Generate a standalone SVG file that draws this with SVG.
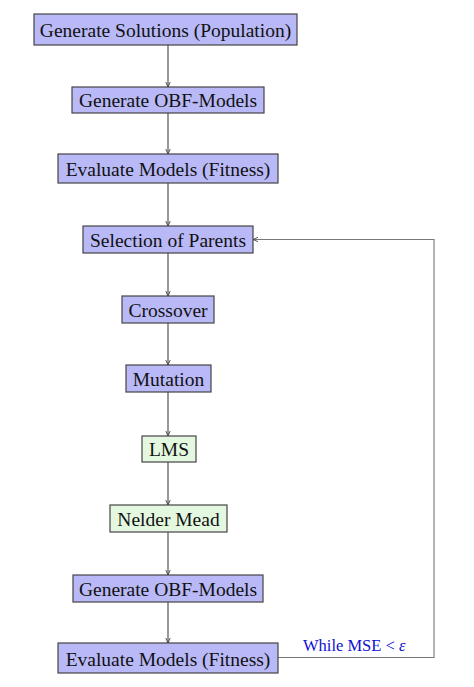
<svg xmlns="http://www.w3.org/2000/svg" width="474" height="687" viewBox="0 0 474 687">
<style>
.n rect{stroke:#444;stroke-width:1.2}
.p rect{fill:#b9b9f7}
.g rect{fill:#e4f8e0}
text{font-family:"Liberation Serif","Times New Roman",serif;font-size:19.5px;fill:#111;text-anchor:middle}
.c line,.c path{stroke:#444;stroke-width:1.1;fill:none}
.lbl{fill:#1010d0;font-size:16.5px;text-anchor:start}
</style>
<defs>
<marker id="ah" markerWidth="6" markerHeight="6" refX="5" refY="3" orient="auto" markerUnits="userSpaceOnUse">
<path d="M0,0.8 L5,3 L0,5.2" fill="none" stroke="#444" stroke-width="0.9"/>
</marker>
</defs>
<rect width="474" height="687" fill="#fff"/>
<g class="c">
<line x1="168" y1="45" x2="168" y2="87" marker-end="url(#ah)"/>
<line x1="168" y1="113" x2="168" y2="154" marker-end="url(#ah)"/>
<line x1="168" y1="183" x2="168" y2="226" marker-end="url(#ah)"/>
<line x1="168" y1="253" x2="168" y2="296" marker-end="url(#ah)"/>
<line x1="168" y1="323" x2="168" y2="365" marker-end="url(#ah)"/>
<line x1="168" y1="392" x2="168" y2="436" marker-end="url(#ah)"/>
<line x1="168" y1="462" x2="168" y2="505" marker-end="url(#ah)"/>
<line x1="168" y1="532" x2="168" y2="575" marker-end="url(#ah)"/>
<line x1="168" y1="602" x2="168" y2="643" marker-end="url(#ah)"/>
<path d="M278,657.5 H434 V239.5 H253" style="stroke:#777" marker-end="url(#ah)"/>
</g>
<g id="n1" class="n p"><rect x="34" y="14" width="263" height="31"/><text x="165.5" y="36.5">Generate Solutions (Population)</text></g>
<g id="n2" class="n p"><rect x="72" y="87" width="192" height="26"/><text x="168" y="106.5">Generate OBF-Models</text></g>
<g id="n3" class="n p"><rect x="58" y="154" width="220" height="29"/><text x="168" y="175.5">Evaluate Models (Fitness)</text></g>
<g id="n4" class="n p"><rect x="83" y="226" width="170" height="27"/><text x="168" y="246.5">Selection of Parents</text></g>
<g id="n5" class="n p"><rect x="122" y="296" width="92" height="27"/><text x="168" y="316.5">Crossover</text></g>
<g id="n6" class="n p"><rect x="126" y="365" width="85" height="27"/><text x="168.5" y="385.5">Mutation</text></g>
<g id="n7" class="n g"><rect x="142" y="436" width="54" height="26"/><text x="169" y="455.5">LMS</text></g>
<g id="n8" class="n g"><rect x="110" y="505" width="117" height="27"/><text x="168.5" y="525.5">Nelder Mead</text></g>
<g id="n9" class="n p"><rect x="73" y="575" width="190" height="27"/><text x="168" y="595.5">Generate OBF-Models</text></g>
<g id="n10" class="n p"><rect x="58" y="643" width="220" height="30"/><text x="168" y="665.5">Evaluate Models (Fitness)</text></g>
<text class="lbl" x="303" y="651">While MSE &lt; <tspan font-style="italic">ε</tspan></text>
</svg>
